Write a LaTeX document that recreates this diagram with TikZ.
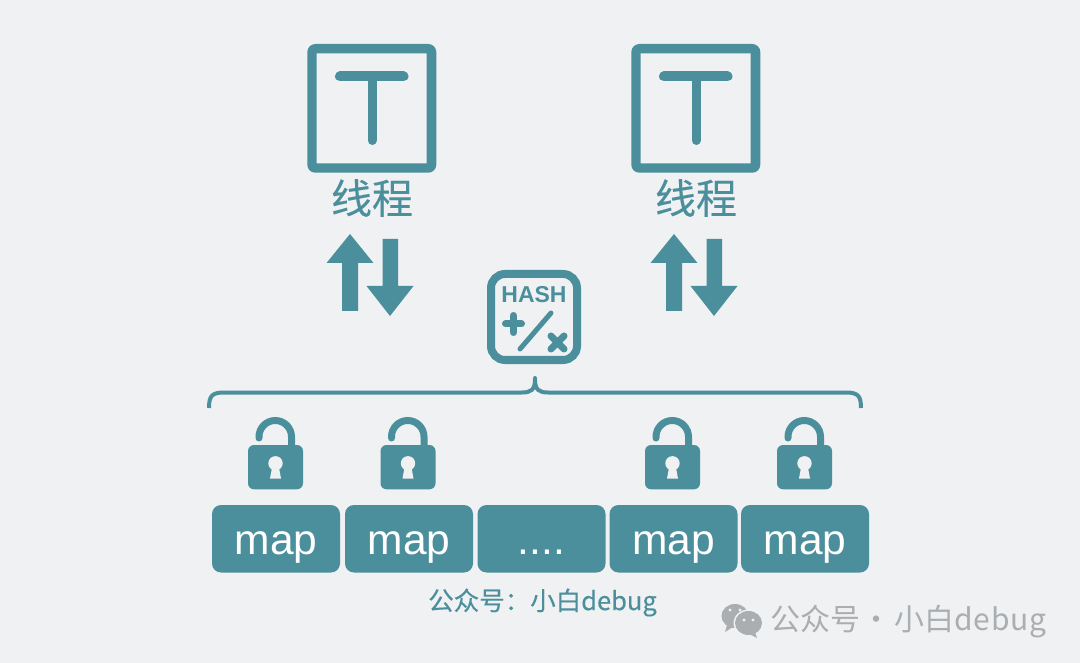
\documentclass[tikz,border=0pt]{standalone}
\usepackage{fontspec}
\setmainfont{Liberation Sans}
\newfontfamily\cjk{Noto Sans CJK SC}
\newfontfamily\cjkb[FakeBold=0.25]{Noto Sans CJK SC}
\definecolor{teal1}{HTML}{4B8F9C}
\definecolor{bg1}{HTML}{EFF1F3}
\definecolor{wm}{HTML}{ABAEB0}
\tikzset{
  txt/.style={inner sep=0pt,outer sep=0pt,text=teal1},
  mapbox/.style={fill=teal1,rounded corners=9pt,minimum width=128pt,minimum height=67.5pt,inner sep=0pt,text=white,text height=31pt,text depth=0pt,font=\fontsize{42.5}{42.5}\selectfont},
  threadicon/.pic={
    \fill[teal1,even odd rule] [rounded corners=8pt] (-64.7,-64.5) rectangle (64.3,64.2) [sharp corners] (-55.3,-55.2) rectangle (54.7,54.8);
    \draw[teal1,line width=10pt,line cap=round] (-32,-32) -- (31.5,-32);
    \draw[teal1,line width=9pt,line cap=round] (0,-32) -- (0,32);
  },
  arrowpair/.pic={
    \fill[teal1] (0,0) -- (23.5,29) -- (8,29) -- (8,77) -- (-8,77) -- (-8,29) -- (-23.5,29) -- cycle;
    \fill[teal1] (40,82) -- (16.5,52) -- (32.5,52) -- (32.5,5) -- (48,5) -- (48,52) -- (63.5,52) -- cycle;
  },
  lockicon/.pic={
    \draw[teal1,line width=7pt,line cap=round] (11,-7) -- (11,-8.25) .. controls (11,-17.2) and (18.3,-24.5) .. (27.25,-24.5) .. controls (36.2,-24.5) and (43.5,-17.2) .. (43.5,-8.25) -- (43.5,3);
    \fill[teal1,rounded corners=6pt] (0,0) rectangle (55,44.3);
    \fill[bg1] (27.5,18.3) circle (7.2);
    \fill[bg1] (24.5,20) -- (30.5,20) -- (33,33.5) -- (22,33.5) -- cycle;
  },
}
\begin{document}
\begin{tikzpicture}[x=1pt,y=-1pt]
\useasboundingbox (0,0) rectangle (1080,663);
\fill[bg1] (0,0) rectangle (1080,663);
% threads
\pic at (372,108.5) {threadicon};
\pic at (696,108.5) {threadicon};
\node[txt,font=\cjkb\fontsize{41}{41}\selectfont] (t1) at (372,198) {线程};
\node[txt,font=\cjkb\fontsize{41}{41}\selectfont] (t2) at (696,198) {线程};
% arrows
\pic at (350,234) {arrowpair};
\pic at (674,234) {arrowpair};
% hash
\draw[teal1,line width=8pt,rounded corners=14pt] (491,274) rectangle (577,360);
\node[txt,font=\bfseries\fontsize{23}{23}\selectfont] (hash) at (534,294.5) {HASH};
\draw[teal1,line width=7pt,line cap=round] (505.5,324) -- (521.5,324) (513.5,315.5) -- (513.5,332.5);
\draw[teal1,line width=5pt,line cap=round] (520,349) -- (551,313);
\draw[teal1,line width=7pt,line cap=round] (551,336) -- (564,349) (564,336) -- (551,349);
% brace
\draw[teal1,line width=4pt] (209,408) .. controls (209,396) and (212,392.5) .. (224,392.5) -- (522,392.5) .. controls (531,392.5) and (535,390) .. (535,379);
\draw[teal1,line width=4pt] (861,408) .. controls (861,396) and (858,392.5) .. (846,392.5) -- (548,392.5) .. controls (539,392.5) and (535,390) .. (535,379);
\fill[teal1] (535,378) circle (2);
% locks
\pic at (248,445) {lockicon};
\pic at (380.5,445) {lockicon};
\pic at (645,445) {lockicon};
\pic at (777,445) {lockicon};
% maps
\node[mapbox] (m1) at (276,538.75) {map};
\node[mapbox] (m2) at (409,538.75) {map};
\node[mapbox] (m3) at (541.5,538.75) {....};
\node[mapbox] (m4) at (673.5,538.75) {map};
\node[mapbox] (m5) at (805,538.75) {map};
% caption
\node[txt,font=\cjkb\fontsize{25.5}{26}\selectfont] (cap) at (542.5,602.5) {公众号：小白debug};
% watermark
\fill[wm] (735,616) ellipse (13.5 and 12);
\fill[wm] (727,625) -- (725,632) -- (733,627) -- cycle;
\fill[bg1] (748.5,623) ellipse (15 and 13.5);
\fill[wm] (748.5,623) ellipse (13.5 and 12);
\fill[wm] (755,632) -- (757,638) -- (749,634) -- cycle;
\fill[bg1] (730,610) circle (1.7) (740,610) circle (1.7) (744,620) circle (1.6) (753,620) circle (1.6);
\node[inner sep=0pt,text=wm,font=\cjk\fontsize{30}{30}\selectfont,anchor=west] (wmark) at (770,622) {公众号\hspace{1pt}·\hspace{3pt}小白{\addfontfeature{LetterSpace=3}debug}};
\end{tikzpicture}
\end{document}
